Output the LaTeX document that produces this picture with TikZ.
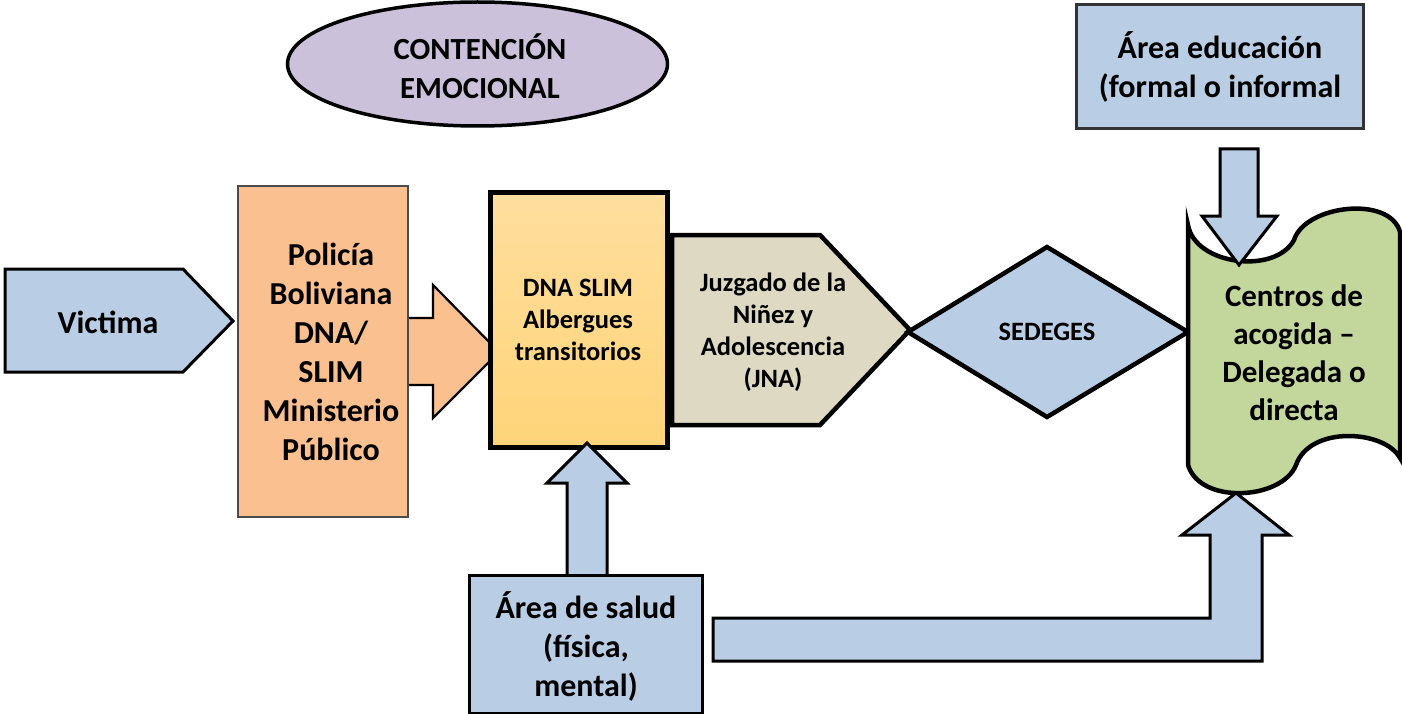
\documentclass[tikz,border=0pt]{standalone}
\usepackage{fontspec}
\setmainfont{Carlito}
\definecolor{azul}{HTML}{B9CDE5}
\definecolor{naranja}{HTML}{FAC090}
\definecolor{oroA}{HTML}{FFDE9E}
\definecolor{oroB}{HTML}{FFD479}
\definecolor{arena}{HTML}{DDD9C3}
\definecolor{verde}{HTML}{C3D69B}
\definecolor{lila}{HTML}{CCC1DA}
\begin{document}
\begin{tikzpicture}[x=1pt,y=-1pt,
		big/.style={font=\fontsize{32}{39}\selectfont\bfseries,align=center},
		small/.style={font=\fontsize{26.5}{32}\selectfont\bfseries,align=center}]
	\useasboundingbox (0,0) rectangle (1402,714);
	% contencion emocional
	\draw[line width=3.5pt,fill=lila] (477.5,64) ellipse [x radius=190,y radius=62];
	\node[big,font=\fontsize{30.7}{39}\selectfont\bfseries] (cont) at (480,66) {CONTENCIÓN\\EMOCIONAL};
	% victima
	\draw[line width=3pt,fill=azul] (5,269) -- (183,269) -- (233,321) -- (183,372) -- (5,372) -- cycle;
	\node[big] (vic) at (108,322) {Victima};
	% policia + flecha
	\draw[line width=2.2pt,fill=naranja] (408,318) -- (433,318) -- (433,285) -- (499,352) -- (433,418) -- (433,385) -- (408,385);
	\draw[line width=2.2pt,draw=black!70,fill=naranja] (238,186) rectangle (408,517);
	\node[big] (pol) at (331,352) {Policía\\Boliviana\\DNA/\\SLIM\\Ministerio\\Público};
	% dna slim
	\draw[line width=5pt,top color=oroA,bottom color=oroB] (490,193) rectangle (667,447);
	\node[small] (dna) at (578,320) {DNA SLIM\\Albergues\\transitorios};
	% juzgado
	\draw[line width=4.5pt,fill=arena] (672,235) -- (820,235) -- (910,330) -- (820,425) -- (672,425) -- cycle;
	\node[small] (jna) at (773,332) {Juzgado de la\\Niñez y\\Adolescencia\\(JNA)};
	% sedeges
	\draw[line width=4.5pt,fill=azul] (908,332) -- (1047,247) -- (1188,332) -- (1047,417) -- cycle;
	\node[small] (sed) at (1047,332) {SEDEGES};
	% centros de acogida
	\draw[line width=4.5pt,fill=verde] (1188,225) .. controls (1195,265) and (1275,275) .. (1294,240)
		.. controls (1305,205) and (1390,195) .. (1400,232) -- (1400,458)
		.. controls (1385,430) and (1310,425) .. (1296,465)
		.. controls (1282,500) and (1200,505) .. (1188,465) -- cycle;
	\node[big,font=\fontsize{31}{38}\selectfont\bfseries] (cen) at (1294,353) {Centros de\\acogida --\\Delegada o\\directa};
	% area educacion
	\draw[line width=3pt,draw=black!80,fill=azul] (1076,5) rectangle (1363,129);
	\node[big] (edu) at (1220,67) {Área educación\\(formal o informal};
	\draw[line width=3pt,fill=azul] (1220,149) -- (1258,149) -- (1258,216) -- (1277,216) -- (1239,265) -- (1202,216) -- (1220,216) -- cycle;
	% area de salud
	\draw[line width=3pt,fill=azul] (567,575) -- (567,483) -- (547,483) -- (587,443) -- (627,483) -- (607,483) -- (607,575);
	\draw[line width=3pt,fill=azul] (469,575) rectangle (702,713);
	\node[big] (sal) at (586,646) {Área de salud\\(física,\\mental)};
	\draw[line width=3pt,fill=azul] (713,618) -- (1210,618) -- (1210,535) -- (1182,535) -- (1236,493) -- (1289,535) -- (1262,535) -- (1262,661) -- (713,661) -- cycle;
\end{tikzpicture}
\end{document}
